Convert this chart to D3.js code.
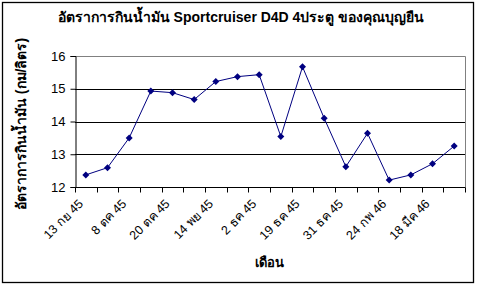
<!DOCTYPE html>
<html>
<head>
  <meta charset="utf-8">
  <script src="https://d3js.org/d3.v7.min.js"></script>
  <style>
    body { margin: 0; background: #fff; }
    text { font-family: "Liberation Sans", Arial, sans-serif; }
  </style>
</head>
<body>
  <div id="chart"></div>
  <script>
    // Data (18 readings, only every second one is labelled)
    const categories = ["13 กย 45", "", "8 ตค 45", "", "20 ตค 45", "", "14 พย 45", "", "2 ธค 45", "",
                        "19 ธค 45", "", "31 ธค 45", "", "24 กพ 46", "", "18 มีค 46", ""];
    const values = [12.37, 12.59, 13.50, 14.93, 14.88, 14.67, 15.22, 15.37, 15.43, 13.54,
                    15.67, 14.10, 12.62, 13.64, 12.21, 12.37, 12.71, 13.25];
    const yTicks = [12, 13, 14, 15, 16];

    const width = 477, height = 285;
    const plot = { left: 75, right: 465, top: 56, bottom: 187 };

    const svg = d3.select("#chart").append("svg")
      .attr("width", width)
      .attr("height", height);

    // outer border
    svg.append("rect")
      .attr("x", 2.5).attr("y", 2.5)
      .attr("width", 471).attr("height", 280)
      .attr("fill", "#fff")
      .attr("stroke", "#000")
      .attr("stroke-width", 1.3);

    const x = d3.scaleBand()
      .domain(d3.range(categories.length))
      .range([plot.left, plot.right]);

    const y = d3.scaleLinear()
      .domain([12, 16])
      .range([plot.bottom, plot.top]);

    // gridlines
    svg.append("g")
      .selectAll("line")
      .data(yTicks.filter(d => d > 12 && d < 16))
      .join("line")
      .attr("x1", plot.left).attr("x2", plot.right)
      .attr("y1", d => Math.round(y(d)) + 0.5)
      .attr("y2", d => Math.round(y(d)) + 0.5)
      .attr("stroke", "#000");

    // plot area border top/right (gray)
    svg.append("path")
      .attr("d", `M${plot.left},${plot.top + 0.5}H${plot.right + 0.5}V${plot.bottom}`)
      .attr("fill", "none")
      .attr("stroke", "#808080");

    // y axis
    const yAxis = svg.append("g")
      .attr("transform", `translate(${plot.left + 0.5},0)`)
      .call(d3.axisLeft(y).tickValues(yTicks).tickSize(5).tickPadding(5).tickFormat(d3.format("d")));
    yAxis.select(".domain").attr("stroke", "#000");
    yAxis.selectAll("text").style("font-size", "13px").attr("fill", "#000")
      .style("font-family", "'Liberation Sans', Arial, sans-serif");

    // x axis: ticks at category boundaries
    const xg = svg.append("g")
      .attr("transform", `translate(0,${plot.bottom + 0.5})`);
    xg.append("line")
      .attr("x1", plot.left).attr("x2", plot.right + 0.5)
      .attr("stroke", "#000");
    xg.selectAll("line.tick")
      .data(d3.range(categories.length + 1))
      .join("line")
      .attr("class", "tick")
      .attr("x1", i => Math.round(plot.left + i * x.step()) + 0.5)
      .attr("x2", i => Math.round(plot.left + i * x.step()) + 0.5)
      .attr("y1", 0).attr("y2", 5)
      .attr("stroke", "#000");
    xg.selectAll("text")
      .data(categories.map((c, i) => ({ c, i })).filter(d => d.c !== ""))
      .join("text")
      .attr("transform", d => `translate(${x(d.i) + x.bandwidth() / 2 - 2},${17}) rotate(-45)`)
      .attr("text-anchor", "end")
      .style("font-size", "12.5px")
      .text(d => d.c);

    // line
    const line = d3.line()
      .x((d, i) => x(i) + x.bandwidth() / 2)
      .y(d => y(d));
    svg.append("path")
      .datum(values)
      .attr("d", line)
      .attr("fill", "none")
      .attr("stroke", "#000080")
      .attr("stroke-width", 1);

    // diamond markers
    svg.append("g")
      .selectAll("path")
      .data(values)
      .join("path")
      .attr("transform", (d, i) => `translate(${x(i) + x.bandwidth() / 2},${y(d)})`)
      .attr("d", "M0,-3.5L3.5,0L0,3.5L-3.5,0Z")
      .attr("fill", "#000080");

    // title
    svg.append("text")
      .attr("x", 241).attr("y", 22)
      .attr("text-anchor", "middle")
      .style("font-size", "14px")
      .style("font-weight", "bold")
      .text("อัตราการกินน้ำมัน Sportcruiser D4D 4ประตู ของคุณบุญยืน");

    // axis titles
    svg.append("text")
      .attr("x", 269).attr("y", 267)
      .attr("text-anchor", "middle")
      .style("font-size", "13px")
      .style("font-weight", "bold")
      .text("เดือน");

    svg.append("text")
      .attr("transform", "translate(26,124) rotate(-90)")
      .attr("text-anchor", "middle")
      .style("font-size", "14px")
      .style("font-weight", "bold")
      .text("อัตราการกินน้ำมัน (กม/ลิตร)");
  </script>
</body>
</html>
